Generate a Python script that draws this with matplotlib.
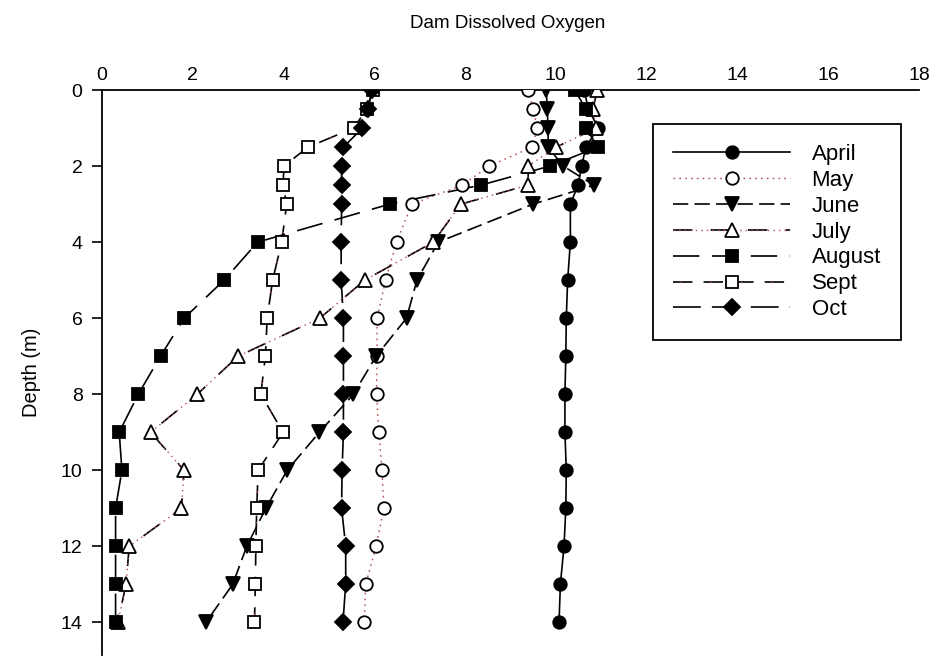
import matplotlib
matplotlib.use('Agg')
import matplotlib.pyplot as plt
from matplotlib.legend_handler import HandlerTuple

plt.rcParams['font.family'] = ['Liberation Sans', 'DejaVu Sans']
plt.rcParams['lines.scale_dashes'] = False

depth = [0, 0.5, 1, 1.5, 2, 2.5, 3, 4, 5, 6, 7, 8, 9, 10, 11, 12, 13, 14]

april = [10.62, 10.72, 10.93, 10.66, 10.57, 10.49, 10.32, 10.32, 10.26, 10.23,
         10.22, 10.20, 10.20, 10.23, 10.22, 10.18, 10.10, 10.07]
may = [9.39, 9.50, 9.59, 9.48, 8.53, 7.94, 6.83, 6.49, 6.25, 6.06,
       6.06, 6.05, 6.10, 6.17, 6.21, 6.04, 5.81, 5.78]
june = [9.79, 9.81, 9.83, 9.83, 10.16, 10.84, 9.50, 7.41, 6.94, 6.71,
        6.04, 5.54, 4.79, 4.08, 3.61, 3.19, 2.88, 2.29]
july = [10.91, 10.82, 10.89, 10.01, 9.39, 9.39, 7.91, 7.30, 5.79, 4.80,
        3.00, 2.10, 1.07, 1.81, 1.75, 0.60, 0.53, 0.35]
august = [10.42, 10.66, 10.66, 10.93, 9.87, 8.35, 6.34, 3.43, 2.69, 1.81,
          1.29, 0.80, 0.38, 0.44, 0.30, 0.30, 0.30, 0.30]
sept = [5.98, 5.83, 5.55, 4.54, 4.01, 3.99, 4.07, 3.96, 3.76, 3.64,
        3.60, 3.50, 3.99, 3.44, 3.41, 3.39, 3.38, 3.36]
october = [5.94, 5.87, 5.74, 5.32, 5.28, 5.28, 5.28, 5.27, 5.27, 5.32,
           5.32, 5.32, 5.32, 5.29, 5.28, 5.37, 5.37, 5.31]

labels = ['April', 'May', 'June', 'July', 'August', 'Sept', 'Oct']
values = [april, may, june, july, august, sept, october]
# marker, fill, black dash pattern (None = no black line), red dot pattern
styles = [
    ('o', 'black', '-', None),
    ('o', 'white', None, (0, (1.2, 3))),
    ('v', 'black', (0, (11, 4.5)), None),
    ('^', 'white', (0, (14, 13)), (16, (1, 3))),
    ('s', 'black', (0, (19, 9)), None),
    ('s', 'white', (0, (14, 8)), (17.5, (1, 21))),
    ('D', 'black', (0, (20, 8)), None),
]
sizes = {'o': 9, 'v': 10, '^': 10, 's': 9, 'D': 8.5}

fig = plt.figure(figsize=(9.32, 6.6), dpi=100)
ax = fig.add_axes([0.1094, 0.008, 0.8766, 0.8556])

handles = []
for lab, vals, (mk, fill, ls, dots) in zip(labels, values, styles):
    parts = []
    if ls is not None:
        l1, = ax.plot(vals, depth, color='black', lw=1.2, linestyle=ls, zorder=2)
        parts.append(l1)
    if dots is not None:
        l2, = ax.plot(vals, depth, color='#b05050', lw=1.0, linestyle=dots, zorder=2)
        parts.append(l2)
    m, = ax.plot(vals, depth, linestyle='none', marker=mk, markersize=sizes[mk],
                 markerfacecolor=fill, markeredgecolor='black', markeredgewidth=1.3,
                 zorder=3)
    parts.append(m)
    handles.append(tuple(parts))

ax.set_xlim(0, 18)
ax.set_ylim(14.85, 0)
ax.set_xticks(range(0, 19, 2))
ax.set_yticks(range(0, 15, 2))
ax.xaxis.tick_top()
ax.tick_params(axis='x', length=0, pad=4.5, labelsize=14)
ax.tick_params(axis='y', length=7, width=1.2, direction='out', pad=7, labelsize=14)
for s in ['bottom', 'right']:
    ax.spines[s].set_visible(False)
for s in ['top', 'left']:
    ax.spines[s].set_linewidth(1.3)
ax.set_ylabel('Depth (m)', fontsize=14.5, labelpad=14)

fig.text(0.545, 0.965, 'Dam Dissolved Oxygen', ha='center', va='center', fontsize=13.5)

leg = ax.legend(handles, labels, handler_map={tuple: HandlerTuple(ndivide=1, pad=0)},
                loc='upper left', bbox_to_anchor=(0.674, 0.94), fontsize=16,
                handlelength=5.3, handletextpad=0.95, labelspacing=0.22,
                borderpad=0.9, borderaxespad=0, fancybox=False, frameon=True,
                edgecolor='black', framealpha=1, numpoints=1)
leg.get_frame().set_linewidth(1.3)

fig.savefig('out.png', dpi=100)
